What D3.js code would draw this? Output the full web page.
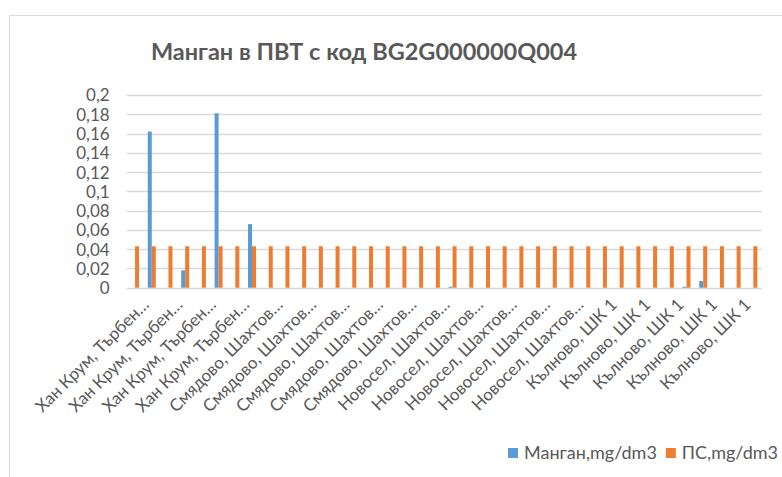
<!DOCTYPE html>
<html>
<head>
<meta charset="utf-8">
<script src="https://cdn.jsdelivr.net/npm/d3@7"></script>
<style>
  body { margin: 0; background: #fff; }
  text { font-family: Lato, 'Open Sans', sans-serif; fill: #595959; }
</style>
</head>
<body>
<div class="chart"></div>
<script>
const categories = [
  'Хан Крум, Търбен…', 'Хан Крум, Търбен… ', 'Хан Крум, Търбен…', 'Хан Крум, Търбен… ',
  'Хан Крум, Търбен…', 'Хан Крум, Търбен… ', 'Хан Крум, Търбен…', 'Хан Крум, Търбен… ',
  'Смядово, Шахтов…', 'Смядово, Шахтов… ', 'Смядово, Шахтов…', 'Смядово, Шахтов… ',
  'Смядово, Шахтов…', 'Смядово, Шахтов… ', 'Смядово, Шахтов…', 'Смядово, Шахтов… ',
  'Смядово, Шахтов…', 'Смядово, Шахтов… ',
  'Новосел, Шахтов…', 'Новосел, Шахтов… ', 'Новосел, Шахтов…', 'Новосел, Шахтов… ',
  'Новосел, Шахтов…', 'Новосел, Шахтов… ', 'Новосел, Шахтов…', 'Новосел, Шахтов… ',
  'Новосел, Шахтов…', 'Новосел, Шахтов… ',
  'Кълново, ШК 1', 'Кълново, ШК 1 ', 'Кълново, ШК 1', 'Кълново, ШК 1 ',
  'Кълново, ШК 1', 'Кълново, ШК 1 ', 'Кълново, ШК 1', 'Кълново, ШК 1 ',
  'Кълново, ШК 1', 'Кълново, ШК 1 '
];

const manganValues = [
  0, 0.162, 0, 0.018, 0, 0.181, 0, 0.066,
  0, 0, 0, 0, 0, 0, 0, 0, 0, 0,
  0, 0.001, 0, 0, 0, 0, 0, 0, 0, 0,
  0, 0, 0, 0, 0, 0.001, 0.007, 0, 0, 0
];

const psValues = [
  0.043, 0.043, 0.043, 0.043, 0.043, 0.043, 0.043, 0.043,
  0.043, 0.043, 0.043, 0.043, 0.043, 0.043, 0.043, 0.043, 0.043, 0.043,
  0.043, 0.043, 0.043, 0.043, 0.043, 0.043, 0.043, 0.043, 0.043, 0.043,
  0.043, 0.043, 0.043, 0.043, 0.043, 0.043, 0.043, 0.043, 0.043, 0.043
];

const seriesNames = ['Манган,mg/dm3', 'ПС,mg/dm3'];
const seriesColors = ['#5b9bd5', '#ed7d31'];
const yTicks = [0, 0.02, 0.04, 0.06, 0.08, 0.1, 0.12, 0.14, 0.16, 0.18, 0.2];
const title = 'Манган в ПВТ с код BG2G000000Q004';

const FULL_WIDTH = 782;
const FULL_HEIGHT = 477;
const plot = { left: 126.7, right: 761.7, top: 95, bottom: 287.7 };

const svg = d3.select('.chart')
  .append('svg')
    .attr('width', FULL_WIDTH)
    .attr('height', FULL_HEIGHT);

// chart area border (only top and left visible)
svg.append('path')
  .attr('d', `M9.5,${FULL_HEIGHT} V15.5 H${FULL_WIDTH}`)
  .attr('fill', 'none')
  .attr('stroke', '#d9d9d9');

svg.append('text')
  .attr('x', 364)
  .attr('y', 60)
  .attr('text-anchor', 'middle')
  .style('font-size', '23.5px')
  .style('font-weight', 'bold')
  .text(title);

const table = categories.map((c, i) => ({ i, values: [manganValues[i], psValues[i]] }));

const xScale = d3.scaleBand()
  .domain(d3.range(categories.length))
  .range([plot.left, plot.right])
  .paddingInner(0.52)
  .paddingOuter(0.26);

const xInner = d3.scaleBand()
  .domain([0, 1])
  .range([0, xScale.bandwidth()]);

const yScale = d3.scaleLinear()
  .domain([0, 0.2])
  .range([plot.bottom, plot.top]);

const locale = d3.formatLocale({ decimal: ',', thousands: ' ', grouping: [3], currency: ['', ''] });
const fmt = locale.format('~g');

// gridlines
svg.append('g')
  .selectAll('line')
  .data(yTicks)
  .join('line')
    .attr('x1', plot.left)
    .attr('x2', plot.right)
    .attr('y1', d => Math.round(yScale(d)) + 0.5)
    .attr('y2', d => Math.round(yScale(d)) + 0.5)
    .attr('stroke', '#d9d9d9')
    .attr('stroke-width', 1.3);

const yAxis = svg.append('g')
  .attr('transform', `translate(${plot.left - 17}, 0)`)
  .call(d3.axisLeft(yScale).tickValues(yTicks).tickFormat(fmt).tickSize(0).tickPadding(0));
yAxis.select('.domain').remove();
yAxis.selectAll('text')
  .style('font-size', '17px')
  .attr('dy', '0.35em');

// bars
svg.append('g')
  .selectAll('g')
  .data(table)
  .join('g')
    .attr('transform', d => `translate(${xScale(d.i)}, 0)`)
  .selectAll('rect')
  .data(d => d.values)
  .join('rect')
    .attr('x', (v, k) => xInner(k))
    .attr('width', xInner.bandwidth())
    .attr('y', v => yScale(v))
    .attr('height', v => plot.bottom - yScale(v))
    .attr('fill', (v, k) => seriesColors[k]);

// category labels, every second one
const xAxis = svg.append('g')
  .attr('transform', `translate(0, ${plot.bottom})`)
  .call(d3.axisBottom(xScale)
    .tickValues(d3.range(0, categories.length, 2))
    .tickFormat(i => categories[i])
    .tickSize(0));
xAxis.select('.domain').remove();
xAxis.selectAll('text')
  .attr('y', 0)
  .attr('dy', 0)
  .attr('text-anchor', 'end')
  .attr('transform', 'translate(15, 18) rotate(-45)')
  .style('font-size', '17px');

// legend
const legend = svg.append('g')
  .attr('transform', 'translate(508, 453)');
let lx = 0;
seriesNames.forEach((name, k) => {
  legend.append('rect')
    .attr('x', lx)
    .attr('y', -5)
    .attr('width', 10)
    .attr('height', 10)
    .attr('fill', seriesColors[k]);
  const t = legend.append('text')
    .attr('x', lx + 16)
    .attr('y', 0)
    .attr('dy', '0.35em')
    .style('font-size', '18px')
    .text(name);
  lx += 16 + t.node().getComputedTextLength() + 9;
});
</script>
</body>
</html>
